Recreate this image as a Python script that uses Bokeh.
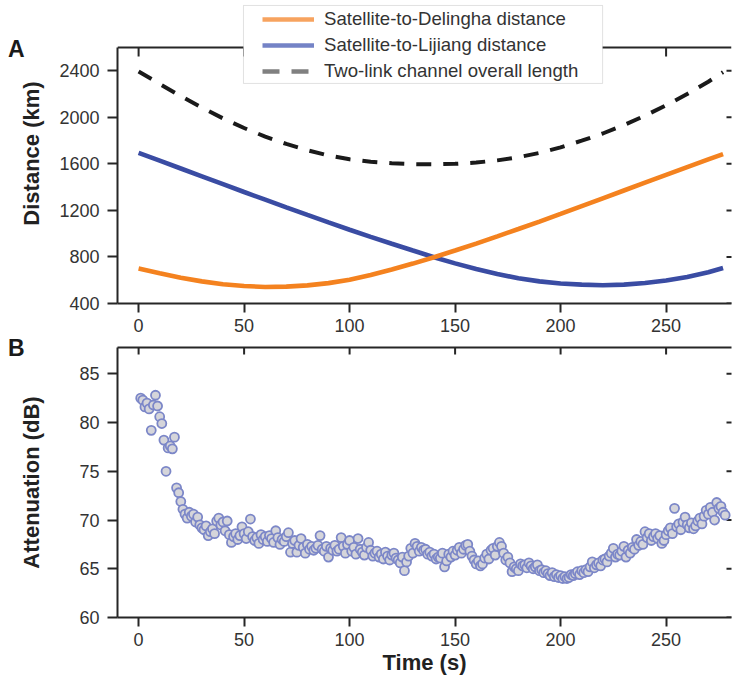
import math
from bokeh.plotting import figure
from bokeh.models import (LinearAxis, FixedTicker, Legend, LegendItem, Span, BoxAnnotation)
from bokeh.layouts import column
from bokeh.embed import file_html
from bokeh.resources import INLINE

# ---------------- data ----------------
time_s = [0, 10, 20, 30, 40, 50, 60, 70, 80, 90, 100, 110, 120, 130, 140,
          150, 160, 170, 180, 190, 200, 210, 220, 230, 240, 250, 260, 270, 277]
delingha_km = [700, 660, 622, 590, 565, 550, 542, 545, 556, 575, 605, 645, 692, 743, 798,
               855, 915, 977, 1040, 1104, 1170, 1237, 1304, 1371, 1438, 1505, 1572, 1638, 1683]
lijiang_km = [1694, 1627, 1560, 1493, 1426, 1358, 1292, 1226, 1161, 1097, 1034, 973, 913, 855, 798,
              745, 696, 653, 617, 590, 572, 562, 557, 562, 576, 598, 628, 668, 705]
overall_km = [2394, 2287, 2182, 2083, 1991, 1908, 1834, 1771, 1717, 1672, 1639, 1618, 1605, 1598, 1596,
              1600, 1611, 1630, 1657, 1694, 1742, 1799, 1861, 1933, 2014, 2103, 2200, 2306, 2388]

att_time_s = list(range(1, 279))
attenuation_db = [
    82.5, 82.3, 81.6, 82.0, 81.4, 79.2, 81.8, 82.8, 81.7, 80.6,
    79.9, 78.2, 75.0, 77.4, 77.6, 77.3, 78.5, 73.3, 72.8, 71.9,
    71.1, 70.6, 70.2, 70.8, 70.4, 70.6, 69.8, 70.3, 69.5, 69.2,
    69.0, 69.4, 68.4, 68.8, 69.1, 68.6, 69.9, 70.2, 69.5, 69.8,
    68.9, 69.9, 68.5, 67.7, 68.3, 68.6, 68.0, 68.4, 69.3, 68.6,
    68.1, 68.8, 70.1, 68.3, 67.9, 68.2, 67.6, 68.5, 68.0, 68.3,
    67.8, 68.4, 68.1, 67.7, 68.9, 68.2, 67.5, 68.0, 67.8, 68.3,
    68.7, 66.7, 67.6, 67.9, 66.7, 67.4, 68.1, 67.2, 66.6, 67.5,
    67.0, 67.3, 66.9, 67.1, 67.4, 68.4, 67.0, 66.8, 67.3, 66.2,
    67.1, 66.9, 67.4, 66.8, 67.0, 68.2, 67.3, 66.6, 67.5, 67.9,
    66.8, 67.2, 66.5, 68.1, 67.0, 66.7, 66.4, 67.2, 67.7, 66.9,
    66.3, 66.6, 66.8, 66.2, 66.5, 66.0, 66.7, 66.3, 65.9, 66.4,
    66.6, 66.1, 65.9, 65.6, 66.2, 64.8, 65.7, 66.3, 67.1, 66.6,
    67.6, 67.3, 66.8, 67.2, 66.9, 67.0, 66.5, 66.7, 66.3, 66.5,
    66.0, 66.2, 66.1, 66.6, 65.2, 65.8, 66.5, 66.2, 66.8, 66.4,
    66.9, 67.2, 66.6, 67.0, 67.4, 67.5, 66.8, 66.3, 65.9, 65.5,
    65.8, 65.3, 65.5, 66.1, 66.5, 66.0, 66.9, 67.1, 66.4, 67.3,
    67.7, 67.3, 66.6, 65.9, 66.2, 65.6, 64.7, 65.2, 65.0, 64.8,
    65.5, 65.3, 65.4, 65.1, 65.6, 65.3, 65.0, 65.2, 65.4, 64.8,
    64.9, 64.6, 64.8, 64.5, 64.3, 64.6, 64.2, 64.4, 64.1, 64.3,
    64.0, 64.2, 64.0, 64.1, 64.4, 64.3, 64.5, 64.7, 64.4, 64.8,
    64.6, 64.9, 64.7, 65.2, 65.7, 65.1, 65.4, 65.6, 65.3, 65.9,
    66.0, 65.7, 66.3, 66.6, 67.1, 66.2, 66.5, 66.4, 66.8, 67.3,
    66.2, 66.9, 66.6, 67.2, 67.0, 68.0, 67.4, 67.8, 67.5, 68.8,
    68.2, 68.6, 67.9, 68.3, 68.6, 68.1, 68.4, 67.6, 67.9, 68.5,
    68.9, 69.2, 68.6, 71.2, 69.3, 69.6, 69.0, 69.8, 70.3, 69.5,
    69.2, 69.7, 69.1, 69.4, 69.9, 70.2, 69.6, 70.4, 71.0, 70.6,
    71.3, 70.8, 70.0, 71.8, 71.2, 71.4, 70.8, 70.5,
]

x_ticks = [0, 50, 100, 150, 200, 250]
dist_ticks = [400, 800, 1200, 1600, 2000, 2400]
att_ticks = [60, 65, 70, 75, 80, 85]

legend_labels = ["Satellite-to-Delingha distance",
                 "Satellite-to-Lijiang distance",
                 "Two-link channel overall length"]

# ---------------- layout / styling constants ----------------
AX = "#262626"
FONT = "Liberation Sans"
ORANGE = "#F4821F"
BLUE = "#3A4CA3"
X_RANGE = (-10, 281)
DIST_AXIS = (400, 2600)          # visible axis span of panel A
DIST_VIEW = (400, 2978)          # frame extends above the axis box to hold the key
ATT_RANGE = (60, 87.7)
KM_PER_PX = (DIST_AXIS[1] - DIST_AXIS[0]) / 256.0
PANEL_A_Y = 2591
PANEL_B_Y = 87.7


def style_main_axis(ax, ticks, tick_out, standoff):
    ax.ticker = FixedTicker(ticks=ticks)
    ax.axis_line_color = AX
    ax.axis_line_width = 2
    ax.major_tick_line_color = AX
    ax.major_tick_line_width = 2
    ax.major_tick_out = tick_out
    ax.major_tick_in = 0
    ax.minor_tick_line_color = None
    ax.major_label_standoff = standoff
    ax.major_label_text_font = FONT
    ax.major_label_text_font_size = "18px"
    ax.major_label_text_color = "#333333"
    ax.axis_label_text_font = FONT
    ax.axis_label_text_font_style = "bold"
    ax.axis_label_text_font_size = "22px"
    ax.axis_label_text_color = "#222222"


def panel_letter_axis(y, letter):
    ax = LinearAxis(ticker=FixedTicker(ticks=[y]), major_label_overrides={y: letter})
    ax.axis_line_color = None
    ax.major_tick_line_color = None
    ax.major_tick_out = 0
    ax.major_tick_in = 0
    ax.minor_tick_line_color = None
    ax.major_label_standoff = -8
    ax.major_label_text_font = FONT
    ax.major_label_text_font_style = "bold"
    ax.major_label_text_font_size = "23px"
    ax.major_label_text_color = "#1a1a1a"
    return ax


def base_figure(height, y_range, border_top, border_bottom):
    p = figure(width=732, height=height, x_range=X_RANGE, y_range=y_range,
               output_backend="svg", toolbar_location=None,
               min_border_left=117, min_border_right=1,
               min_border_top=border_top, min_border_bottom=border_bottom)
    p.grid.visible = False
    p.outline_line_color = None
    p.background_fill_color = "white"
    p.border_fill_color = "white"
    return p


# ---------------- panel A ----------------
p1 = base_figure(340, DIST_VIEW, 3, 37)
style_main_axis(p1.xaxis[0], x_ticks, 9, 6)
style_main_axis(p1.yaxis[0], dist_ticks, 10, 8)
p1.yaxis[0].bounds = DIST_AXIS
p1.yaxis[0].axis_label = "Distance (km)"
p1.yaxis[0].axis_label_standoff = 12
p1.add_layout(panel_letter_axis(PANEL_A_Y, "A"), "left")

p1.line(time_s, overall_km, line_color="#1a1a1a", line_width=4, line_dash="15 12")
p1.line(time_s, lijiang_km, line_color=BLUE, line_width=4.6)
p1.line(time_s, delingha_km, line_color=ORANGE, line_width=4.6)

# top spine and inward mirror ticks of the axis box
p1.add_layout(Span(location=DIST_AXIS[1], dimension="width", line_color=AX, line_width=2))
p1.segment(x0=x_ticks, y0=[DIST_AXIS[1]] * len(x_ticks),
           x1=x_ticks, y1=[DIST_AXIS[1] - 9 * KM_PER_PX] * len(x_ticks),
           line_color=AX, line_width=2)
p1.scatter(x=[X_RANGE[1]] * len(dist_ticks), y=dist_ticks, marker="dash", size=10,
           line_color=AX, line_width=2)

# key box
p1.add_layout(BoxAnnotation(left=49.7, right=219.9, bottom=2291, top=2961,
                            fill_color="white", fill_alpha=1.0,
                            line_color="#9A9A9A", line_width=1, level="annotation"))

# legend handles (lighter, as in the reference key); single-point lines draw nothing in the plot
lg_o = p1.line(x=time_s[:1], y=delingha_km[:1], line_color="#F7A35F", line_width=4.5)
lg_b = p1.line(x=time_s[:1], y=lijiang_km[:1], line_color="#7483C6", line_width=4.5)
lg_d = p1.line(x=time_s[:1], y=overall_km[:1], line_color="#808080", line_width=4.5,
               line_dash="17 12")

legend_items = Legend(items=[LegendItem(label=legend_labels[0], renderers=[lg_o]),
                             LegendItem(label=legend_labels[1], renderers=[lg_b]),
                             LegendItem(label=legend_labels[2], renderers=[lg_d])],
                      location=(143, 219), padding=2, margin=0, spacing=4,
                      glyph_width=52, glyph_height=20, label_height=20,
                      label_standoff=10,
                      label_text_font=FONT, label_text_font_size="18.6px",
                      label_text_color="#333333",
                      border_line_alpha=0, background_fill_alpha=0)
p1.add_layout(legend_items, "center")

# ---------------- panel B ----------------
p2 = base_figure(349, ATT_RANGE, 15, 64)
p2.border_fill_alpha = 0
p2.margin = (-8, 0, 0, 0)
style_main_axis(p2.xaxis[0], x_ticks, 9, 6)
style_main_axis(p2.yaxis[0], att_ticks, 10, 8)
p2.xaxis[0].axis_label = "Time (s)"
p2.xaxis[0].axis_label_standoff = 1
p2.yaxis[0].axis_label = "Attenuation (dB)"
p2.yaxis[0].axis_label_standoff = 32
p2.add_layout(panel_letter_axis(PANEL_B_Y, "B"), "left")

top_line = LinearAxis(ticker=FixedTicker(ticks=[]), axis_line_color=AX, axis_line_width=2,
                      major_tick_line_color=None, minor_tick_line_color=None)
p2.add_layout(top_line, "above")

p2.scatter(x=x_ticks, y=[ATT_RANGE[1]] * len(x_ticks), marker="dash", angle=math.pi / 2,
           size=14, line_color=AX, line_width=2)
p2.scatter(x=[X_RANGE[1]] * len(att_ticks), y=att_ticks, marker="dash", size=10,
           line_color=AX, line_width=2)

p2.scatter(att_time_s, attenuation_db, size=9, fill_color="#D5D5DA",
           line_color="#7C87C8", line_width=1.8)

layout = column(p1, p2, spacing=0)
open("out.html", "w").write(file_html(layout, INLINE))
